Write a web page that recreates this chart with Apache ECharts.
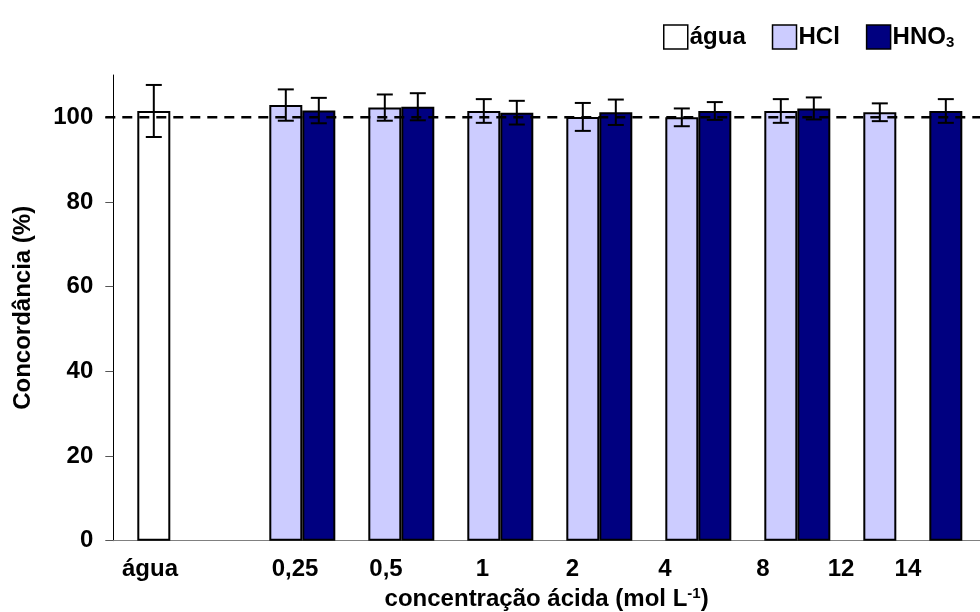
<!DOCTYPE html>
<html><head><meta charset="utf-8">
<script src="https://cdn.jsdelivr.net/npm/echarts@6/dist/echarts.min.js"></script>
<style>html,body{margin:0;padding:0;background:#fff}#c{width:980px;height:612px}</style>
</head><body><div id="c"></div>
<script>
// ---- data ----
const categories = ['água', '0,25', '0,5', '1', '2', '4', '8', '12', '14'];
const aguaValues = [101.5, null, null, null, null, null, null, null, null];
const aguaErrors = [6.15, null, null, null, null, null, null, null, null];
const hclValues  = [null, 102.9, 102.3, 101.5, 100.1, 100.0, 101.5, 101.2, null];
const hclErrors  = [null, 3.7, 3.1, 2.8, 3.3, 2.1, 2.8, 2.1, null];
const hno3Values = [null, 101.6, 102.5, 101.1, 101.2, 101.5, 102.1, null, 101.5];
const hno3Errors = [null, 3.0, 3.2, 2.8, 3.0, 2.1, 2.6, null, 2.8];
const yTicks = [0, 20, 40, 60, 80, 100];
const referenceLevel = 100;

// ---- layout (positions in category units) ----
const X_MIN = -0.2424, X_MAX = 8.512;
const SLOTS = 3;                       // three bar slots per category
const seriesSlot = { 'água': 0, 'HCl': 1, 'HNO3': 2 };
const slotOverride = { 'HNO3|14': 0 }; // the lone HNO3 bar sits in the first slot
const labelShift = [0.128, 0.593, 0.512, 0.487, 0.396, 0.330, 0.320, 0.108, -0.216];
const FONT = "'Liberation Sans', Arial, Helvetica, sans-serif";

function slotX(name, i) {
  const key = name + '|' + categories[i];
  const s = (key in slotOverride) ? slotOverride[key] : seriesSlot[name];
  return i + (s + 0.5) / SLOTS;
}
function barData(name, vals) {
  const out = [];
  vals.forEach((v, i) => { if (v != null) out.push([slotX(name, i), v]); });
  return out;
}
function errData(name, vals, errs) {
  const out = [];
  vals.forEach((v, i) => { if (v != null) out.push([slotX(name, i), v, errs[i]]); });
  return out;
}
const labelPositions = categories.map((c, i) => i + labelShift[i]);

const barCommon = {
  type: 'bar', barWidth: 33, barGap: '-100%',
  emphasis: { disabled: true }, z: 2
};
function errorSeries(data) {
  return {
    type: 'custom', data: data, z: 5, silent: true,
    encode: { x: 0, y: [1] },
    renderItem: function (params, api) {
      const x = api.value(0), v = api.value(1), e = api.value(2);
      const top = api.coord([x, v + e]);
      const bot = api.coord([x, v - e]);
      const w = 8;
      const st = { stroke: '#000', lineWidth: 2 };
      return { type: 'group', children: [
        { type: 'line', shape: { x1: top[0], y1: top[1], x2: bot[0], y2: bot[1] }, style: st },
        { type: 'line', shape: { x1: top[0] - w, y1: top[1], x2: top[0] + w, y2: top[1] }, style: st },
        { type: 'line', shape: { x1: bot[0] - w, y1: bot[1], x2: bot[0] + w, y2: bot[1] }, style: st }
      ]};
    }
  };
}

const chart = echarts.init(document.getElementById('c'), null, { renderer: 'canvas' });
chart.setOption({
  animation: false,
  backgroundColor: '#fff',
  textStyle: { fontFamily: FONT },
  grid: { left: 113.3, right: 0, top: 75, bottom: 71.3, containLabel: false, outerBoundsMode: 'none' },
  legend: {
    left: 658, top: 18, width: 330, itemWidth: 24, itemHeight: 24, itemGap: 26,
    icon: 'rect',
    data: ['água', 'HCl', 'HNO3'],
    itemStyle: { borderColor: '#000', borderWidth: 1.5 },
    formatter: function (n) { return n === 'HNO3' ? '{t|HNO}{s|3}' : '{t|' + n + '}'; },
    textStyle: {
      fontFamily: FONT, padding: [0, 0, 0, -3],
      rich: {
        t: { fontFamily: FONT, fontWeight: 'bold', fontSize: 24, color: '#000', lineHeight: 26 },
        s: { fontFamily: FONT, fontWeight: 'bold', fontSize: 15, color: '#000', verticalAlign: 'bottom', lineHeight: 16, padding: [12, 0, 0, 0] }
      }
    }
  },
  xAxis: {
    type: 'value', min: X_MIN, max: X_MAX,
    splitLine: { show: false },
    axisLine: { show: true, onZero: false, lineStyle: { color: '#808080', width: 1.2 } },
    axisTick: { show: false },
    axisLabel: {
      customValues: labelPositions,
      margin: 17,
      fontFamily: FONT, fontWeight: 'bold', fontSize: 24, color: '#000',
      formatter: function (v) {
        let best = 0, d = Infinity;
        labelPositions.forEach((p, i) => { const dd = Math.abs(p - v); if (dd < d) { d = dd; best = i; } });
        return categories[best];
      }
    },
    name: 'concentração ácida (mol L{sup|-1})',
    nameLocation: 'middle', nameGap: 42,
    nameTextStyle: {
      fontFamily: FONT, fontWeight: 'bold', fontSize: 24, color: '#000',
      rich: { sup: { fontFamily: FONT, fontWeight: 'bold', fontSize: 15, color: '#000', verticalAlign: 'top', padding: [0, 0, 10, 0] } }
    }
  },
  yAxis: {
    type: 'value', min: 0, max: 110,
    splitLine: { show: false },
    axisLine: { show: true, onZero: false, lineStyle: { color: '#000', width: 1 } },
    axisTick: { show: true, customValues: yTicks, length: 8, lineStyle: { color: '#555', width: 1 } },
    axisLabel: { customValues: yTicks, margin: 20, fontFamily: FONT, fontWeight: 'bold', fontSize: 24, color: '#000' },
    name: 'Concordância (%)', nameLocation: 'middle', nameGap: 78,
    nameTextStyle: { fontFamily: FONT, fontWeight: 'bold', fontSize: 24, color: '#000' }
  },
  series: [
    Object.assign({}, barCommon, { name: 'água', data: barData('água', aguaValues), itemStyle: { color: '#ffffff', borderColor: '#000', borderWidth: 2 } }),
    Object.assign({}, barCommon, { name: 'HCl', data: barData('HCl', hclValues), itemStyle: { color: '#ccccff', borderColor: '#000', borderWidth: 2 } }),
    Object.assign({}, barCommon, { name: 'HNO3', data: barData('HNO3', hno3Values), itemStyle: { color: '#000080', borderColor: '#000', borderWidth: 2 } }),
    errorSeries(errData('água', aguaValues, aguaErrors)),
    errorSeries(errData('HCl', hclValues, hclErrors)),
    errorSeries(errData('HNO3', hno3Values, hno3Errors)),
    {
      type: 'custom', data: [[X_MIN, referenceLevel]], z: 4, silent: true, clip: false,
      encode: { x: 0, y: 1 },
      renderItem: function (params, api) {
        const cs = params.coordSys;
        const y = api.coord([X_MIN, api.value(1)])[1];
        return { type: 'line', shape: { x1: cs.x - 8, y1: y, x2: cs.x + cs.width, y2: y },
                 style: { stroke: '#000', lineWidth: 2.5, lineDash: [10, 7] } };
      }
    }
  ]
});
</script></body></html>
